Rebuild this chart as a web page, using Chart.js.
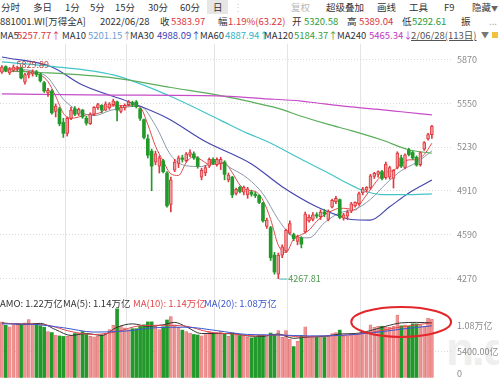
<!DOCTYPE html>
<html><head><meta charset="utf-8">
<script src="https://cdn.jsdelivr.net/npm/chart.js@4.4.1/dist/chart.umd.min.js"></script>
<style>
html,body{margin:0;padding:0;background:#fff;}
body{width:499px;height:382px;overflow:hidden;position:relative;font-family:"Noto Sans CJK SC","Noto Sans",sans-serif;}
.t{position:absolute;white-space:nowrap;line-height:12px;z-index:3;}
.r1{top:1px;font-size:9.5px;color:#333;}
.r2{top:15px;font-size:9.5px;color:#333;}
.r3{top:29px;font-size:9.5px;color:#333;}
.rv{top:297px;font-size:9.5px;color:#333;}
.red{color:#d9363e;} .grn{color:#2e9a35;}
canvas{position:absolute;left:0;z-index:2;}
#wm{position:absolute;left:446px;top:322px;font-size:46px;font-weight:bold;color:#efefef;z-index:1;font-family:"Liberation Sans",sans-serif;letter-spacing:-2px;}
</style></head><body>
<div id="wm">n.d</div>
<div style="position:absolute;left:207px;top:0;width:21px;height:14px;background:#e6e6e6;z-index:1"></div>
<span class="t r1" style="left:1px">分时</span>
<span class="t r1" style="left:33px">多日</span>
<span class="t r1" style="left:65px">1分</span>
<span class="t r1" style="left:90px">5分</span>
<span class="t r1" style="left:115px">15分</span>
<span class="t r1" style="left:148px">30分</span>
<span class="t r1" style="left:180px">60分</span>
<span class="t r1" style="left:213px">日</span>
<span class="t r1" style="left:233px;color:#ccc">⋮</span>
<span class="t r1" style="left:291px;color:#b8b8b8">复权</span>
<span class="t r1" style="left:326px">超级叠加</span>
<span class="t r1" style="left:377px">画线</span>
<span class="t r1" style="left:409px">工具</span>
<span class="t r1" style="left:444px">F9</span>
<span class="t r1" style="left:472px">隐藏<span style="font-size:7px;color:#666">▼</span></span>

<span class="t r2" style="left:0px">881001.WI[万得全A]</span>
<span class="t r2" style="left:100px">2022/06/28</span>
<span class="t r2" style="left:160px">收</span>
<span class="t r2 red" style="left:171px">5383.97</span>
<span class="t r2" style="left:218px">幅</span>
<span class="t r2 red" style="left:228px">1.19%(63.22)</span>
<span class="t r2" style="left:292px">开</span>
<span class="t r2 grn" style="left:304px">5320.58</span>
<span class="t r2" style="left:347px">高</span>
<span class="t r2 red" style="left:359px">5389.04</span>
<span class="t r2" style="left:402px">低</span>
<span class="t r2 grn" style="left:412px">5292.61</span>
<span class="t r2" style="left:461px">振</span>
<span class="t r2" style="left:489px;color:#999">...</span>

<span class="t r3" style="left:0px">MA5</span>
<span class="t r3" style="left:17px;color:#d9363e">5257.77↑</span>
<span class="t r3" style="left:62px">MA10</span>
<span class="t r3" style="left:88px;color:#6d9fd2">5201.15↑</span>
<span class="t r3" style="left:130px">MA30</span>
<span class="t r3" style="left:157px;color:#3b3fb5">4988.09↑</span>
<span class="t r3" style="left:200px">MA60</span>
<span class="t r3" style="left:225px;color:#2fb4c4">4887.94↑</span>
<span class="t r3" style="left:264px">MA120</span>
<span class="t r3" style="left:294px;color:#3a9e3a">5184.37↑</span>
<span class="t r3" style="left:337px">MA240</span>
<span class="t r3" style="left:369px;color:#c236c2">5465.34↓</span>
<span class="t r3" style="left:411px;color:#555;text-decoration:underline">2/06/28(113日)</span>
<span class="t r3" style="left:481px;color:#777;font-size:8px">▼</span>
<div style="position:absolute;left:492px;top:32px;width:6px;height:6px;background:#f0c040;z-index:3"></div>

<span class="t rv" style="left:0px">AMO: 1.22万亿</span>
<span class="t rv" style="left:63px">MA(5): 1.14万亿</span>
<span class="t rv" style="left:133px;color:#e0474c">MA(10): 1.14万亿</span>
<span class="t rv" style="left:204px;color:#3b57d0">MA(20): 1.08万亿</span>

<canvas id="cm" width="499" height="246" style="top:44px"></canvas>
<canvas id="cv" width="499" height="92" style="top:290px"></canvas>
<script>
// ---------- data ----------
const dates = ['01-06','01-07','01-10','01-11','01-12','01-13','01-14','01-17','01-18','01-19','01-20','01-21','01-24','01-25','01-26','01-27','01-28',
'02-07','02-08','02-09','02-10','02-11','02-14','02-15','02-16','02-17','02-18','02-21','02-22','02-23','02-24','02-25','02-28',
'03-01','03-02','03-03','03-04','03-07','03-08','03-09','03-10','03-11','03-14','03-15','03-16','03-17','03-18','03-21','03-22','03-23','03-24','03-25','03-28','03-29','03-30','03-31',
'04-01','04-06','04-07','04-08','04-11','04-12','04-13','04-14','04-15','04-18','04-19','04-20','04-21','04-22','04-25','04-26','04-27','04-28','04-29',
'05-05','05-06','05-09','05-10','05-11','05-12','05-13','05-16','05-17','05-18','05-19','05-20','05-23','05-24','05-25','05-26','05-27','05-30','05-31',
'06-01','06-02','06-06','06-07','06-08','06-09','06-10','06-13','06-14','06-15','06-16','06-17','06-20','06-21','06-22','06-23','06-24','06-27','06-28'];
const padSlots = ['p1','p2','p3','p4','p5'];
const monthStarts = ['02-07','03-01','04-01','05-05','06-01'];

const open = [5778,5818,5772,5790,5805,5808,5705,5755,5765,5778,5760,5700,5625,5640,5490,5510,5410,
5330,5440,5510,5470,5500,5440,5400,5470,5515,5535,5500,5515,5540,5560,5490,5515,
5540,5555,5560,5510,5430,5290,5200,5120,5090,5130,5040,4810,5060,5110,5150,5130,5170,5180,5150,5010,5040,5090,5140,
5100,5110,5120,4990,5010,4890,4935,4900,4880,4900,4885,4875,4820,4650,4640,4440,4300,4440,4470,
4600,4590,4540,4565,4610,4690,4700,4735,4720,4755,4700,4790,4830,4845,4710,4725,4760,4800,4815,
4895,4915,4930,5015,5030,5050,5005,5010,5000,5080,5150,5080,5208,5190,5155,5100,5215,5290,5320.58];
const high = [5826,5824,5812,5829.89,5822,5815,5768,5785,5795,5790,5770,5710,5660,5650,5545,5520,5440,
5450,5520,5525,5515,5505,5455,5480,5525,5550,5540,5560,5555,5580,5565,5535,5545,
5570,5565,5570,5515,5435,5320,5215,5200,5165,5140,5050,5010,5140,5165,5170,5190,5210,5195,5160,5075,5095,5150,5150,
5150,5155,5130,5040,5015,4930,4945,4945,4935,4915,4900,4880,4825,4710,4650,4460,4455,4515,4630,
4690,4600,4585,4575,4755,4735,4750,4750,4770,4775,4770,4850,4870,4850,4745,4770,4825,4830,4900,
4935,4940,5030,5045,5055,5060,5120,5090,5065,5195,5170,5180,5220,5200,5165,5195,5270,5330,5389.04];
const low = [5768,5780,5760,5780,5785,5728,5690,5735,5748,5745,5705,5630,5600,5470,5450,5385,5300,
5310,5430,5460,5460,5440,5390,5395,5460,5505,5480,5495,5505,5530,5420,5480,5500,
5530,5525,5515,5425,5290,5150,4910,5100,5040,5040,4790,4755,5050,5080,5120,5120,5160,5140,5075,4990,5020,5080,5100,
5090,5065,4990,4975,4860,4880,4895,4880,4855,4870,4860,4815,4680,4635,4400,4300,4267.81,4420,4460,
4590,4545,4515,4492,4600,4680,4690,4710,4700,4720,4690,4785,4815,4705,4695,4700,4750,4790,4805,
4880,4900,4920,5000,5010,4990,4995,4995,4930,5070,5080,5070,5165,5140,5090,5090,5205,5280,5292.61];
const close = [5815,5790,5800,5815,5812,5735,5760,5770,5780,5760,5715,5640,5645,5480,5530,5400,5330,
5440,5500,5470,5505,5450,5405,5470,5520,5540,5500,5545,5545,5565,5500,5520,5535,
5560,5540,5525,5440,5300,5170,5090,5180,5150,5050,4800,4990,5120,5150,5140,5180,5190,5150,5090,5060,5080,5140,5110,
5140,5140,5030,5025,4880,4920,4905,4935,4925,4885,4875,4825,4690,4695,4420,4316,4440,4500,4620,
4670,4560,4575,4520,4740,4715,4735,4725,4755,4740,4760,4840,4855,4715,4735,4755,4815,4825,4890,
4925,4935,5020,5038,5050,5000,5105,5080,5060,5185,5090,5172,5175,5150,5098,5190,5262,5320.75,5383.97];
// turnover, 亿元
const amount = [11600,10900,10600,11000,11200,11000,11400,12100,11000,11300,10800,10500,9600,9400,8900,8700,8600,
8600,8900,9200,9300,9600,9100,8600,8500,8600,8900,9300,10000,10900,14300,10700,10400,
10000,10200,10200,10700,11000,11600,11600,10700,10000,10600,12000,12700,11000,10500,9900,9600,9300,9000,8900,8700,9000,9600,9200,
9400,9600,9100,8600,9300,8900,8800,8700,8400,8300,8400,8800,8900,8500,9300,9000,9800,8400,9800,
8000,6500,7600,8800,10600,8600,8700,8400,8500,8400,8600,9200,9400,9900,8600,8700,9000,8900,9200,
9000,9200,11000,10500,10700,10700,10500,10500,10700,13000,10800,11000,10700,11200,11200,11000,10700,12400,12200];

// moving-average lines: [candle index, value]
const ma5 = [[0,5800],[2,5801],[4,5806],[6,5784],[8,5771],[10,5757],[12,5708],[14,5602],[16,5477],[18,5440],[20,5449],[22,5466],[24,5470],[26,5487],[28,5530],[30,5531],[32,5533],[34,5531],[36,5520],[38,5395],[40,5236],[42,5128],[44,5034],[46,5022],[48,5116],[50,5162],[52,5134],[54,5104],[56,5106],[58,5112],[60,5043],[62,4952],[64,4913],[66,4905],[68,4840],[70,4701],[72,4512],[74,4459],[76,4558],[78,4589],[80,4622],[82,4687],[84,4734],[86,4764],[88,4782],[90,4780],[92,4769],[94,4842],[96,4919],[98,4994],[100,5043],[102,5059],[104,5104],[106,5136],[108,5137],[110,5175],[112,5257.77]];
const ma10 = [[0,5790],[4,5796],[8,5787],[12,5736],[16,5580],[20,5492],[24,5459],[28,5495],[32,5522],[36,5527],[40,5387],[44,5170],[48,5093],[52,5087],[56,5128],[60,5070],[64,5001],[68,4887],[72,4700],[76,4574],[80,4566],[84,4676],[88,4748],[92,4774],[96,4847],[100,4960],[104,5057],[108,5117],[112,5201.15]];
const ma30 = [[0,5888],[13,5815],[21,5683],[33,5561],[43,5442],[53,5270],[65,5106],[73,4940],[82,4793],[88,4725],[91,4700],[96,4696],[101,4793],[106,4894],[112,4988.09]];
const ma60 = [[0,5852],[13,5820],[29,5757],[43,5612],[57,5425],[64,5330],[69,5272],[78,5140],[85,5040],[90,4965],[94,4912],[99,4882],[106,4882],[112,4887.94]];
const ma120 = [[0,5786],[10,5775],[29,5735],[44,5665],[58,5600],[64,5565],[72,5512],[78,5455],[85,5395],[91,5350],[99,5281],[106,5210],[112,5184.37]];
const ma240 = [[0,5618],[29,5610],[56,5604],[68,5584],[78,5566],[84,5545],[91,5523],[100,5500],[104,5488],[112,5465.34]];
const volMa5 = [[0,11400],[5,11100],[10,11300],[14,10000],[18,8800],[22,9200],[26,8800],[30,10500],[34,11200],[38,10700],[42,11000],[45,11500],[48,10600],[52,9200],[56,9200],[60,9200],[64,8700],[68,8600],[72,9100],[76,8200],[80,8500],[84,8600],[88,9100],[92,9200],[96,9800],[100,10700],[104,11400],[108,11500],[112,11400]];
const volMa10 = [[0,11300],[6,11200],[12,10900],[18,9600],[24,9000],[30,9600],[36,10800],[42,10900],[48,10700],[54,9500],[60,9100],[66,8700],[72,8900],[78,8500],[84,8700],[90,8900],[96,9400],[102,10300],[108,11000],[112,11400]];
const volMa20 = [[0,11200],[8,11100],[16,10400],[24,9500],[32,9700],[40,10400],[48,10500],[56,9800],[64,9000],[72,8900],[80,8700],[88,8800],[96,9300],[104,10100],[112,10800]];

const priceTicks = [4270,4590,4910,5230,5550,5870];
const priceMin = 4184.4, priceMax = 5983.3;
const volTicks = [0,5400,10800];
const volTickLabels = ['0','5400.00亿','1.08万亿'];
const volMax = 18200;
const ellipseIdx = [91,117];
const ellipseVol = [8500,14700];

// ---------- helpers ----------
const FONT = '"Noto Sans CJK SC","Noto Sans",sans-serif';
const labels = dates.concat(padSlots);
const up = i => close[i] >= open[i];
const UP_FILL = '#f29c9c', UP_LINE = '#e0393f', DN = '#22992a';
const monthIdx = monthStarts.map(d => dates.indexOf(d));
const pts = arr => arr.map(([i, v]) => ({x: dates[i], y: v}));
const line = (arr, color, w) => ({type:'line', data: pts(arr), borderColor: color, borderWidth: w || 1,
  pointRadius: 0, spanGaps: true, cubicInterpolationMode: 'monotone', order: 2});
const xAxis = () => ({
  type: 'category', offset: true,
  grid: {offset: true, drawTicks: false, lineWidth: 1,
    color: c => monthIdx.includes(c.index) ? '#e4e4e4' : 'rgba(0,0,0,0)'},
  border: {display: false},
  ticks: {display: false, autoSkip: false},
  afterFit: s => { s.height = 0; s.paddingLeft = 0; s.paddingRight = 0; }
});

Chart.defaults.font.family = FONT;
Chart.defaults.animation = false;

const extremes = {
  id: 'extremes',
  afterDatasetsDraw(chart) {
    const {ctx, scales: {x, y}} = chart;
    const hiV = Math.max(...high), loV = Math.min(...low);
    const hi = high.indexOf(hiV), lo = low.indexOf(loV);
    ctx.save();
    ctx.font = '9px ' + FONT;
    ctx.textBaseline = 'middle';
    let px = x.getPixelForValue(hi), py = y.getPixelForValue(hiV);
    ctx.fillStyle = '#b8443f';
    ctx.fillText(hiV.toFixed(2), px + 3, py);
    px = x.getPixelForValue(lo); py = y.getPixelForValue(loV);
    ctx.strokeStyle = '#4fb3b3'; ctx.lineWidth = 1;
    ctx.beginPath(); ctx.moveTo(px + 1, py + 0.5); ctx.lineTo(px + 9, py + 0.5); ctx.stroke();
    ctx.fillStyle = '#4e9a4e';
    ctx.fillText(loV.toFixed(2), px + 10, py);
    ctx.restore();
  }
};

new Chart(document.getElementById('cm'), {
  type: 'bar',
  data: {
    labels,
    datasets: [
      {label:'body', data: open.map((o, i) => [o, close[i]]), grouped: false, order: 0,
        barThickness: 3, borderSkipped: false,
        backgroundColor: c => up(c.dataIndex) ? UP_FILL : DN,
        borderColor: c => up(c.dataIndex) ? UP_LINE : DN,
        borderWidth: c => up(c.dataIndex) ? 1 : 0},
      {label:'wick', data: low.map((l, i) => [l, high[i]]), grouped: false, order: 1,
        barThickness: 1, borderSkipped: false,
        backgroundColor: c => up(c.dataIndex) ? UP_LINE : DN},
      line(ma240, '#c64cc8', 1.2),
      line(ma120, '#5aad5a', 1.2),
      line(ma60, '#45c4c8', 1.2),
      line(ma30, '#4646ae', 1.2),
      line(ma10, '#8b98aa', 1),
      line(ma5, '#e04a4a', 1)
    ]
  },
  options: {
    responsive: false, animation: false,
    layout: {padding: 0},
    plugins: {legend: {display: false}, tooltip: {enabled: false}},
    scales: {
      x: xAxis(),
      y: {position: 'right', min: priceMin, max: priceMax,
        afterBuildTicks: s => { s.ticks = priceTicks.map(v => ({value: v})); },
        grid: {color: '#d9d9d9', drawTicks: false},
        border: {display: false, dash: [1, 2]},
        ticks: {padding: 4, color: '#8a8a8a', font: {size: 9}, callback: v => String(v)},
        afterFit: s => { s.width = 46; s.paddingTop = 0; s.paddingBottom = 0; }}
    }
  },
  plugins: [extremes]
});

// ring annotation + volume axis labels (kept inside the canvas)
const ring = {
  id: 'ring',
  afterDatasetsDraw(chart) {
    const {ctx, chartArea, scales: {x, y}} = chart;
    const x1 = x.getPixelForValue(ellipseIdx[0]), x2 = x.getPixelForValue(ellipseIdx[1]);
    const y1 = y.getPixelForValue(ellipseVol[1]), y2 = y.getPixelForValue(ellipseVol[0]);
    ctx.save();
    ctx.strokeStyle = '#e3262b'; ctx.lineWidth = 2;
    ctx.beginPath();
    ctx.ellipse((x1 + x2) / 2, (y1 + y2) / 2, (x2 - x1) / 2, (y2 - y1) / 2, 0, 0, Math.PI * 2);
    ctx.stroke();
    ctx.font = '9px ' + FONT; ctx.fillStyle = '#8a8a8a'; ctx.textBaseline = 'middle'; ctx.textAlign = 'left';
    volTicks.forEach((v, k) => {
      const py = Math.min(y.getPixelForValue(v), chartArea.bottom - 4);
      ctx.fillText(volTickLabels[k], chartArea.right + 4, py);
    });
    ctx.restore();
  }
};

new Chart(document.getElementById('cv'), {
  type: 'bar',
  data: {
    labels,
    datasets: [
      {label:'amo', data: amount, order: 1, barThickness: 3, borderSkipped: false,
        backgroundColor: c => up(c.dataIndex) ? '#ef9494' : DN,
        borderColor: c => up(c.dataIndex) ? '#e27070' : DN,
        borderWidth: c => up(c.dataIndex) ? 0.6 : 0},
      line(volMa20, '#3b57d0', 1),
      line(volMa10, '#e0474c', 1),
      line(volMa5, '#333333', 1)
    ].map(d => (d.type === 'line' ? Object.assign(d, {order: 0}) : d))
  },
  options: {
    responsive: false, animation: false,
    layout: {padding: {bottom: 4}},
    plugins: {legend: {display: false}, tooltip: {enabled: false}},
    scales: {
      x: xAxis(),
      y: {position: 'right', min: 0, max: volMax,
        afterBuildTicks: s => { s.ticks = volTicks.map(v => ({value: v})); },
        grid: {color: c => c.tick && c.tick.value === 5400 ? '#d9d9d9' : 'rgba(0,0,0,0)', drawTicks: false},
        border: {display: false, dash: [1, 2]},
        ticks: {display: false},
        afterFit: s => { s.width = 46; s.paddingTop = 0; s.paddingBottom = 0; }}
    }
  },
  plugins: [ring]
});
</script>
</body></html>
